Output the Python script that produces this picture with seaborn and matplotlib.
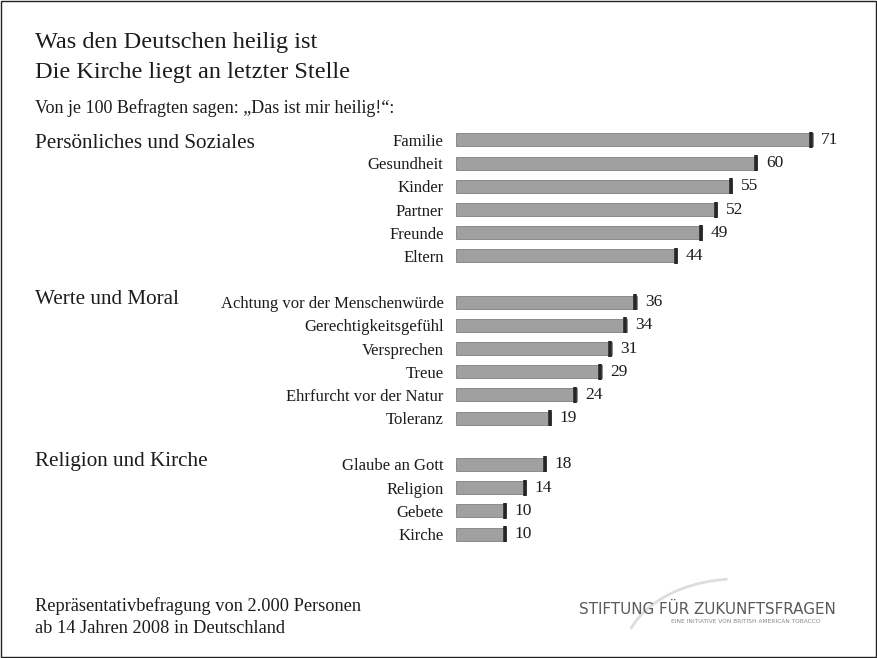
import matplotlib
matplotlib.use("Agg")
import matplotlib.pyplot as plt
import matplotlib.transforms as mtransforms
from matplotlib.patches import Arc, Rectangle
import seaborn as sns
import numpy as np
import pandas as pd

# data
groups = ["Persönliches und Soziales", "Werte und Moral", "Religion und Kirche"]
labels_personal = ["Familie", "Gesundheit", "Kinder", "Partner", "Freunde", "Eltern"]
values_personal = [71, 60, 55, 52, 49, 44]
labels_values = ["Achtung vor der Menschenwürde", "Gerechtigkeitsgefühl", "Versprechen",
                 "Treue", "Ehrfurcht vor der Natur", "Toleranz"]
values_values = [36, 34, 31, 29, 24, 19]
labels_religion = ["Glaube an Gott", "Religion", "Gebete", "Kirche"]
values_religion = [18, 14, 10, 10]

title_lines = ["Was den Deutschen heilig ist", "Die Kirche liegt an letzter Stelle"]
subtitle = "Von je 100 Befragten sagen: „Das ist mir heilig!“:"
footer = "Repräsentativbefragung von 2.000 Personen\nab 14 Jahren 2008 in Deutschland"

df = pd.DataFrame({
    "label": labels_personal + labels_values + labels_religion,
    "value": values_personal + values_values + values_religion,
})
# blank categories leave a gap between the groups
order = labels_personal + [" "] + labels_values + ["  "] + labels_religion

sns.set_theme(style="white")
plt.rcParams["font.family"] = ["Liberation Serif", "DejaVu Serif"]
text_color = "#1c1c1c"

fig = plt.figure(figsize=(8.77, 6.58), dpi=100)
ax = fig.add_axes([0.52, 0.1708, 0.46, 0.6341])

sns.barplot(data=df, x="value", y="label", order=order, color="#a0a0a0",
            width=0.56, saturation=1, edgecolor="#808080", linewidth=0.6, ax=ax)

# dark cap at the end of every bar
pos = [order.index(l) for l in df["label"]]
ax.scatter(df["value"] - 0.3, pos, marker="|", s=120, linewidths=2.6,
           color="#262626", zorder=4)

for c in ax.containers:
    ax.bar_label(c, labels=[f"{v:g}" for v in c.datavalues], padding=6,
                 fontsize=12.5, color=text_color)

ax.set_xlim(0, 80.3)
ax.set_ylim(len(order) - 0.5, -0.5)
ax.set_xlabel("")
ax.set_ylabel("")
ax.set_xticks([])
ax.tick_params(axis="y", length=0, pad=9, labelsize=12, labelcolor=text_color)
sns.despine(ax=ax, left=True, bottom=True)

# group headings, placed next to their first row
trans = mtransforms.blended_transform_factory(fig.transFigure, ax.transData)
first_rows = [labels_personal[0], labels_values[0], labels_religion[0]]
shifts = [0.17, -0.13, -0.13]
for g, first, dy in zip(groups, first_rows, shifts):
    ax.text(0.04, order.index(first) + dy, g, transform=trans, fontsize=15.2,
            color=text_color, va="center", ha="left")

fig.text(0.04, 0.936, title_lines[0], fontsize=17.5, color=text_color, va="center")
fig.text(0.04, 0.890, title_lines[1], fontsize=17.5, color=text_color, va="center")
fig.text(0.04, 0.836, subtitle, fontsize=13, color=text_color, va="center")
fig.text(0.04, 0.062, footer, fontsize=13.2, color=text_color, va="center",
         linespacing=1.4)

# foundation logo
fig.text(0.807, 0.074, "STIFTUNG FÜR ZUKUNFTSFRAGEN", fontsize=10.9, color="#5a5a5a",
         family="DejaVu Sans", ha="center", va="center")
fig.text(0.85, 0.055, "EINE INITIATIVE VON BRITISH AMERICAN TOBACCO", fontsize=4.2,
         color="#888888", family="DejaVu Sans", ha="center", va="center")
swoosh = Arc((0.84, 0.0), 0.26, 0.24, theta1=95, theta2=160, transform=fig.transFigure,
             color="#dddddd", linewidth=2)
fig.add_artist(swoosh)

# thin frame round the figure
fig.add_artist(Rectangle((0.001, 0.001), 0.998, 0.998, transform=fig.transFigure,
                         fill=False, edgecolor="#222222", linewidth=1))

fig.savefig("out.png", dpi=100, facecolor="white")
